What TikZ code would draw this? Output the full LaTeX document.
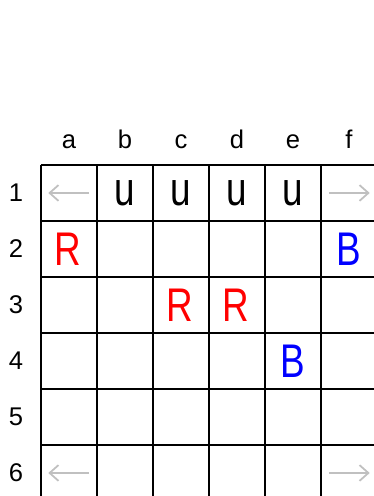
\documentclass[tikz,border=0pt]{standalone}
\usepackage{fontspec}
\setmainfont{Liberation Sans}
\usepackage{graphicx}
\usetikzlibrary{arrows.meta, positioning}
\definecolor{redpiece}{HTML}{FF0000}
\definecolor{bluepiece}{HTML}{0000FF}
\definecolor{shiftgray}{HTML}{C0C0C0}
\tikzset{
    gridline/.style={
        line width=1pt, draw=black
    },
    coordlabel/.style={
        inner sep=0pt, font=\fontsize{13}{13}\selectfont
    },
    piece/.style={
        inner sep=0pt, font=\fontsize{24}{24}\selectfont
    },
    redpc/.style={
        piece, text=redpiece
    },
    bluepc/.style={
        piece, text=bluepiece
    },
    shiftarrow/.style={
        -{Straight Barb[length=4.5pt, width=8pt]}, line width=0.9pt, draw=shiftgray
    }
}
\newcommand{\slim}[1]{\scalebox{0.78}[1]{#1}}

\begin{document}
\begin{tikzpicture}[x=1cm, y=-1cm]

    \useasboundingbox (-0.732,-2.946) rectangle (5.946,5.911);
    \clip (-0.732,-2.946) rectangle (5.946,5.911);

    % ── Board grid ──
    \foreach \i in {0,...,6} {
        \draw[gridline] (\i,0) -- (\i,6);
        \draw[gridline] (0,\i) -- (6,\i);
    }

    % ── Column and row labels ──
    \foreach \c [count=\i from 0] in {a,b,c,d,e,f}
        \node[coordlabel, anchor=base] (col-\c) at (\i+0.5,-0.29) {\c};
    \foreach \r in {1,...,6}
        \node[coordlabel] (row-\r) at (-0.446,\r-0.5) {\r};

    % ── Pieces ──
    \node[piece]  (b1) at (1.5,0.5) {\slim{u}};
    \node[piece]  (c1) at (2.5,0.5) {\slim{u}};
    \node[piece]  (d1) at (3.5,0.5) {\slim{u}};
    \node[piece]  (e1) at (4.5,0.5) {\slim{u}};

    \node[redpc]  (a2) at (0.47,1.5) {\slim{R}};
    \node[bluepc] (f2) at (5.5,1.5)  {\slim{B}};
    \node[redpc]  (c3) at (2.47,2.5) {\slim{R}};
    \node[redpc]  (d3) at (3.47,2.5) {\slim{R}};
    \node[bluepc] (e4) at (4.5,3.5)  {\slim{B}};

    % ── Shift arrows ──
    \coordinate (a1-from) at (0.86,0.5);
    \coordinate (a1-to)   at (0.13,0.5);
    \coordinate (f1-from) at (5.14,0.5);
    \coordinate (f1-to)   at (5.87,0.5);
    \coordinate (a6-from) at (0.86,5.5);
    \coordinate (a6-to)   at (0.13,5.5);
    \coordinate (f6-from) at (5.14,5.5);
    \coordinate (f6-to)   at (5.87,5.5);

    \draw[shiftarrow] (a1-from) -- (a1-to);
    \draw[shiftarrow] (f1-from) -- (f1-to);
    \draw[shiftarrow] (a6-from) -- (a6-to);
    \draw[shiftarrow] (f6-from) -- (f6-to);

\end{tikzpicture}
\end{document}
